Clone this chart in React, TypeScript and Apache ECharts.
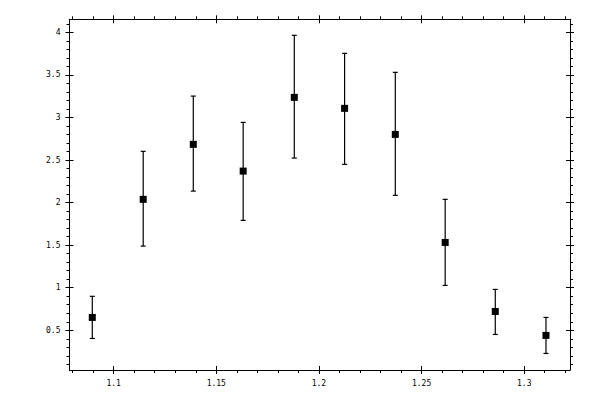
import { useEffect, useRef } from "react";
import * as echarts from "echarts";

// x positions of the measured points
const xValues = [1.0896, 1.1144, 1.1388, 1.1631, 1.188, 1.2125, 1.2372, 1.2615, 1.2859, 1.3106];
// measured values and error bar bounds
const yValues = [0.651, 2.038, 2.684, 2.37, 3.236, 3.107, 2.801, 1.532, 0.721, 0.44];
const yLows = [0.404, 1.489, 2.135, 1.791, 2.523, 2.449, 2.085, 1.027, 0.451, 0.228];
const yHighs = [0.899, 2.602, 3.251, 2.942, 3.965, 3.753, 3.53, 2.038, 0.98, 0.651];

// tick labels
const xMajor = [1.1, 1.15, 1.2, 1.25, 1.3];
const xMinor = [1.08, 1.09, 1.1, 1.11, 1.12, 1.13, 1.14, 1.15, 1.16, 1.17, 1.18, 1.19, 1.2, 1.21, 1.22, 1.23, 1.24, 1.25, 1.26, 1.27, 1.28, 1.29, 1.3, 1.31, 1.32];
const yMajor = [0.5, 1, 1.5, 2, 2.5, 3, 3.5, 4];
const yMinor = [0.1, 0.2, 0.3, 0.4, 0.5, 0.6, 0.7, 0.8, 0.9, 1, 1.1, 1.2, 1.3, 1.4, 1.5, 1.6, 1.7, 1.8, 1.9, 2, 2.1, 2.2, 2.3, 2.4, 2.5, 2.6, 2.7, 2.8, 2.9, 3, 3.1, 3.2, 3.3, 3.4, 3.5, 3.6, 3.7, 3.8, 3.9, 4, 4.1];

const X_MIN = 1.0785;
const X_MAX = 1.3223;
const Y_MIN = 0.0335;
const Y_MAX = 4.153;

const black = "#000";
const labelFont = {
  color: black,
  fontFamily: "DejaVu Sans Mono",
  fontSize: 8,
  margin: 9,
};

// one axis layer: line + labels, or only a set of ticks
function axisLayer(
  kind: "x" | "y",
  position: string,
  ticks: number[],
  opts: { line?: boolean; labels?: boolean; inside?: boolean; length: number }
) {
  return {
    type: "value",
    position,
    min: kind === "x" ? X_MIN : Y_MIN,
    max: kind === "x" ? X_MAX : Y_MAX,
    axisLine: {
      show: !!opts.line,
      onZero: false,
      lineStyle: { color: black, width: 1 },
    },
    axisTick: {
      show: true,
      customValues: ticks,
      inside: !!opts.inside,
      length: opts.length,
      lineStyle: { color: black, width: 1 },
    },
    axisLabel: opts.labels
      ? { show: true, customValues: ticks, ...labelFont }
      : { show: false },
    splitLine: { show: false },
  };
}

export default function App() {
  const chartRef = useRef<HTMLDivElement>(null);

  useEffect(() => {
    const chart = echarts.init(chartRef.current, null, { renderer: "svg" });

    const points = xValues.map((x, i) => [x, yValues[i]]);
    const bars = xValues.map((x, i) => [x, yLows[i], yHighs[i]]);

    chart.setOption({
      animation: false,
      backgroundColor: "#fff",
      grid: { left: 69.5, right: 30, top: 19.3, bottom: 30 },
      xAxis: [
        axisLayer("x", "bottom", xMajor, { line: true, labels: true, length: 4 }),
        axisLayer("x", "bottom", xMajor, { inside: true, length: 4 }),
        axisLayer("x", "bottom", xMinor, { length: 3 }),
        axisLayer("x", "top", xMajor, { line: true, length: 4 }),
        axisLayer("x", "top", xMajor, { inside: true, length: 4 }),
        axisLayer("x", "top", xMinor, { length: 3 }),
      ],
      yAxis: [
        axisLayer("y", "left", yMajor, { line: true, labels: true, length: 4 }),
        axisLayer("y", "left", yMajor, { inside: true, length: 4 }),
        axisLayer("y", "left", yMinor, { length: 3 }),
        axisLayer("y", "right", yMajor, { line: true, length: 4 }),
        axisLayer("y", "right", yMajor, { inside: true, length: 4 }),
        axisLayer("y", "right", yMinor, { length: 3 }),
      ],
      series: [
        {
          type: "custom",
          xAxisIndex: 0,
          yAxisIndex: 0,
          silent: true,
          encode: { x: 0, y: [1, 2] },
          data: bars,
          renderItem: (params: any, api: any) => {
            const lo = api.coord([api.value(0), api.value(1)]);
            const hi = api.coord([api.value(0), api.value(2)]);
            const cap = 2.5;
            const style = { stroke: black, lineWidth: 1.2 };
            return {
              type: "group",
              children: [
                { type: "line", shape: { x1: lo[0], y1: lo[1], x2: hi[0], y2: hi[1] }, style },
                { type: "line", shape: { x1: lo[0] - cap, y1: lo[1], x2: lo[0] + cap, y2: lo[1] }, style },
                { type: "line", shape: { x1: hi[0] - cap, y1: hi[1], x2: hi[0] + cap, y2: hi[1] }, style },
              ],
            };
          },
          z: 2,
        },
        {
          type: "scatter",
          xAxisIndex: 0,
          yAxisIndex: 0,
          silent: true,
          symbol: "rect",
          symbolSize: 7,
          itemStyle: { color: black, opacity: 1 },
          data: points,
          z: 3,
        },
      ],
    });

    return () => {
      chart.dispose();
    };
  }, []);

  return (
    <div
      ref={chartRef}
      style={{ position: "absolute", left: 0, top: 0, width: "600px", height: "400px" }}
    ></div>
  );
}
